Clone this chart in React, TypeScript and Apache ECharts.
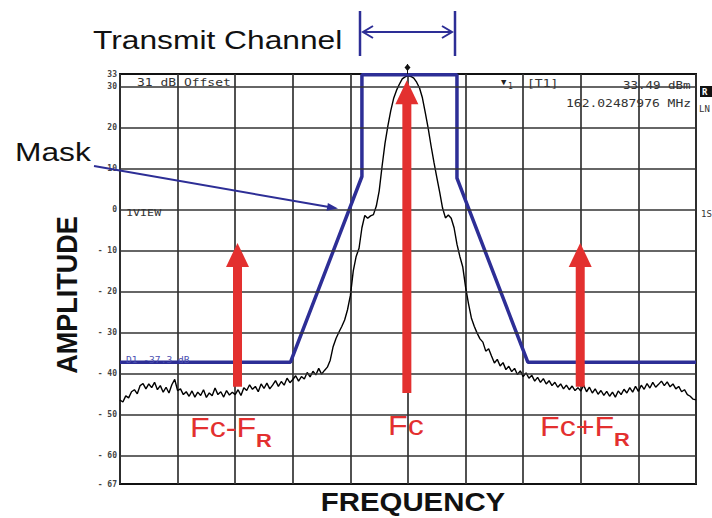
import React, { useEffect, useRef } from 'react';
import * as echarts from 'echarts';

// Y tick labels (dB) and horizontal grid levels
const yTickValues = [33, 30, 20, 10, 0, -10, -20, -30, -40, -50, -60, -67];
const yGridValues = [30, 20, 10, 0, -10, -20, -30, -40, -50, -60];

// Spectral mask (frequency in divisions, level in dB)
const maskFreq = [0, 2.96, 4.2, 4.2, 5.85, 5.85, 7.08, 10];
const maskLevel = [-37.3, -37.3, 8.0, 32.8, 32.8, 7.6, -37.3, -37.3];

// Measured spectrum trace, sampled every 0.05 division from 0
const traceStart = 0;
const traceStep = 0.05;
const traceLevel = [
  -46.5, -47, -45.5, -46, -44.5, -44, -45, -43, -42.5, -43.8,
  -42.6, -43.5, -42.2, -44, -43, -44.6, -43.4, -44.8, -42.8, -41.5,
  -44.2, -43.8, -45.2, -44.5, -45.6, -44.3, -45.8, -44.6, -45.4, -44,
  -45.9, -44.8, -45.5, -43.6, -45.2, -44.5, -45.8, -44.2, -45.3, -44.6,
  -45.2, -44, -45.4, -43.5, -44.2, -42.8, -43.9, -43.2, -44.5, -42.6,
  -43.7, -42.4, -43.8, -42.9, -41.8, -43.2, -42, -42.9, -41.2, -42.3,
  -41.5, -40.6, -41.9, -40.8, -41.4, -39.8, -40.9, -39.5, -40.4, -38.8,
  -40.2, -39.3, -38.5, -36.8, -33.5, -31.5, -30, -28.6, -27, -24.5,
  -21, -15, -11.5, -9.5, -4.5, -1.5, -2.2, -1.6, -1.3, 0.8,
  4.5, 10.5, 16, 20.3, 24, 27, 29, 30.5, 31.8, 32.3,
  32.6, 32.4, 32, 31, 29.6, 27.2, 23.6, 19.8, 15.5, 11.5,
  7.8, 4.2, 0.3, -2.1, -1.4, -2.2, -4.5, -8.5, -11.5, -14,
  -19, -23, -26.5, -28.5, -30.2, -31.6, -32.4, -34.6, -34, -35.8,
  -37.5, -36.6, -38.2, -37.4, -39.1, -38.3, -39.6, -38.8, -40.3, -39.4,
  -40.8, -39.9, -41.2, -40.5, -41.9, -41, -42.2, -41.3, -42.6, -41.8,
  -43, -42.2, -43.4, -42.6, -43.8, -42.9, -44, -43.1, -44.2, -43.5,
  -44.3, -42.9, -44.5, -43.4, -44.8, -43.8, -45.1, -44.2, -45.4, -44.4,
  -45.6, -44.6, -45.8, -44.3, -45.2, -43.9, -44.8, -43.5, -44.6, -43.2,
  -44.4, -42.9, -43.9, -42.5, -43.6, -42.2, -43.4, -42.7, -41.9, -43,
  -42.1, -43.3, -42.6, -43.8, -43.2, -44.5, -44, -45.2, -45.6, -46.3,
  -46.5,
];

// Red carrier arrows: Fc-FR, Fc, Fc+FR
const carrierNames = ['Fc-F', 'Fc', 'Fc+F'];
const carrierFreq = [2.04, 4.98, 7.99];
const carrierBase = [-43.3, -44.8, -43.3];
const carrierTip = [-8.2, 31.5, -8.2];

const RED = '#e3302f';
const BLUE = '#2d2e96';
const GRID = '#333333';

export default function App() {
  const ref = useRef<HTMLDivElement>(null);

  useEffect(() => {
    if (!ref.current) return;
    const chart = echarts.init(ref.current, null, { renderer: 'svg' });

    const traceData = traceLevel.map((v, i) => [traceStart + i * traceStep, v]);
    const maskData = maskFreq.map((f, i) => [f, maskLevel[i]]);
    const arrowData = carrierFreq.map((f, i) => [f, carrierBase[i], carrierTip[i]]);

    const mono = 'DejaVu Sans Mono';
    const sans = 'Liberation Sans, Arial, sans-serif';

    const txt = (text: string, x: number, y: number, o: any = {}) => ({
      type: 'text',
      x,
      y,
      scaleX: o.scaleX ?? 1,
      scaleY: o.scaleY ?? 1,
      rotation: o.rotation ?? 0,
      z: 100,
      silent: true,
      style: {
        text,
        fill: o.fill ?? '#111',
        fontSize: o.fontSize ?? 12,
        fontFamily: o.fontFamily ?? sans,
        fontWeight: o.fontWeight ?? 'normal',
        align: o.align ?? 'left',
        textAlign: o.align ?? 'left',
        verticalAlign: 'middle',
        textVerticalAlign: 'middle',
      },
    });

    const option: any = {
      animation: false,
      backgroundColor: '#ffffff',
      grid: {
        left: 120,
        top: 74,
        width: 576,
        height: 410,
        show: true,
        borderColor: '#111',
        borderWidth: 2,
        backgroundColor: 'transparent',
      },
      xAxis: {
        type: 'value',
        min: 0,
        max: 10,
        interval: 1,
        axisLine: { show: false },
        axisTick: { show: false },
        axisLabel: { show: false },
        splitLine: { show: true, lineStyle: { color: GRID, width: 1.7 } },
      },
      yAxis: {
        type: 'value',
        min: -67,
        max: 33,
        axisLine: { show: false },
        axisTick: { show: false },
        splitLine: { show: false },
        axisLabel: {
          customValues: yTickValues,
          formatter: (v: number) => (v < 0 ? '- ' + -v : String(v)),
          fontSize: 8,
          fontFamily: mono,
          fontWeight: 'bold',
          color: '#444',
          margin: 3,
        },
      },
      series: [
        {
          type: 'line',
          data: [[0, -67]],
          symbol: 'none',
          lineStyle: { opacity: 0 },
          silent: true,
          z: 1,
          markLine: {
            silent: true,
            symbol: 'none',
            label: { show: false },
            lineStyle: { color: GRID, width: 1.7, type: 'solid' },
            data: yGridValues.map((v) => ({ yAxis: v })),
          },
        },
        {
          type: 'line',
          data: traceData,
          symbol: 'none',
          lineStyle: { color: '#000', width: 1.4 },
          silent: true,
          z: 3,
        },
        {
          type: 'line',
          data: maskData,
          symbol: 'none',
          clip: false,
          lineStyle: { color: BLUE, width: 3.5 },
          silent: true,
          z: 4,
        },
        {
          type: 'custom',
          data: arrowData,
          clip: false,
          silent: true,
          z: 5,
          encode: { x: 0, y: [1, 2] },
          renderItem: (_p: any, api: any) => {
            const b = api.coord([api.value(0), api.value(1)]);
            const t = api.coord([api.value(0), api.value(2)]);
            const headH = 24;
            const headW = 11.5;
            const shaftW = 4.5;
            return {
              type: 'group',
              children: [
                {
                  type: 'rect',
                  shape: { x: b[0] - shaftW, y: t[1] + headH - 2, width: shaftW * 2, height: b[1] - (t[1] + headH - 2) },
                  style: { fill: RED },
                },
                {
                  type: 'polygon',
                  shape: { points: [[t[0], t[1]], [t[0] - headW, t[1] + headH], [t[0] + headW, t[1] + headH]] },
                  style: { fill: RED },
                },
              ],
            };
          },
        },
      ],
      graphic: [
        // Transmit channel bracket
        { type: 'line', shape: { x1: 360, y1: 11, x2: 360, y2: 56 }, style: { stroke: BLUE, lineWidth: 2.5 }, z: 100 },
        { type: 'line', shape: { x1: 455, y1: 11, x2: 455, y2: 56 }, style: { stroke: BLUE, lineWidth: 2.5 }, z: 100 },
        { type: 'line', shape: { x1: 363, y1: 32, x2: 452, y2: 32 }, style: { stroke: BLUE, lineWidth: 2 }, z: 100 },
        { type: 'polyline', shape: { points: [[373, 26], [363, 32], [373, 38]] }, style: { stroke: BLUE, lineWidth: 2, fill: 'none' }, z: 100 },
        { type: 'polyline', shape: { points: [[442, 26], [452, 32], [442, 38]] }, style: { stroke: BLUE, lineWidth: 2, fill: 'none' }, z: 100 },
        txt('Transmit Channel', 93, 40, { fontSize: 25, scaleX: 1.27 }),
        // Mask pointer
        { type: 'line', shape: { x1: 94, y1: 166, x2: 329, y2: 207 }, style: { stroke: BLUE, lineWidth: 2 }, z: 100 },
        { type: 'polygon', shape: { points: [[338, 208.5], [326.5, 210.7], [327.9, 202.9]] }, style: { fill: BLUE }, z: 100 },
        txt('Mask', 15, 152, { fontSize: 26, scaleX: 1.22 }),
        // Axis titles
        txt('AMPLITUDE', 66, 295, { fontSize: 27, fontWeight: 'bold', align: 'center', rotation: Math.PI / 2, scaleY: 1.12 }),
        txt('FREQUENCY', 413, 502, { fontSize: 26, fontWeight: 'bold', align: 'center', scaleX: 1.13 }),
        // Red labels
        txt(carrierNames[0], 190, 427, { fontSize: 28, fill: RED, scaleX: 1.15 }),
        txt('R', 256, 440, { fontSize: 19, fontWeight: 'bold', fill: RED, scaleX: 1.15 }),
        txt(carrierNames[1], 388, 425, { fontSize: 28, fill: RED, scaleX: 1.15 }),
        txt(carrierNames[2], 540, 426, { fontSize: 28, fill: RED, scaleX: 1.15 }),
        txt('R', 614, 439, { fontSize: 19, fontWeight: 'bold', fill: RED, scaleX: 1.15 }),
        // Analyzer screen annotations
        txt('31 dB Offset', 137, 83, { fontSize: 10, fontFamily: mono, fill: '#333', scaleX: 1.3 }),
        txt('▼', 501, 82, { fontSize: 9, fontFamily: mono, fill: '#222' }),
        txt('1', 508, 86, { fontSize: 8, fontFamily: mono, fill: '#333' }),
        txt('[T1]', 527, 84, { fontSize: 10, fontFamily: mono, fill: '#333', scaleX: 1.3 }),
        txt('33.49 dBm', 623, 86, { fontSize: 10, fontFamily: mono, fill: '#333', scaleX: 1.25 }),
        txt('162.02487976 MHz', 566, 104, { fontSize: 10, fontFamily: mono, fill: '#333', scaleX: 1.3 }),
        { type: 'rect', shape: { x: 700, y: 86, width: 12, height: 11 }, style: { fill: '#111' }, z: 100 },
        txt('R', 702, 91.5, { fontSize: 9, fontFamily: mono, fill: '#fff', fontWeight: 'bold' }),
        txt('LN', 699, 109, { fontSize: 9, fontFamily: mono, fill: '#333' }),
        txt('1VIEW', 126, 213, { fontSize: 9, fontFamily: mono, fill: '#333', scaleX: 1.3 }),
        txt('1S', 701, 214, { fontSize: 9, fontFamily: mono, fill: '#333' }),
        txt('D1 -37.3 dB', 126, 360, { fontSize: 8, fontFamily: mono, fill: '#4a4fb0', scaleX: 1.2 }),
        // Peak marker
        { type: 'line', shape: { x1: 407.5, y1: 64, x2: 407.5, y2: 74 }, style: { stroke: '#111', lineWidth: 1 }, z: 100 },
        { type: 'polygon', shape: { points: [[407.5, 64], [410.5, 67.5], [407.5, 71], [404.5, 67.5]] }, style: { fill: '#111' }, z: 100 },
      ],
    };

    chart.setOption(option);
    return () => chart.dispose();
  }, []);

  return (
    <div
      ref={ref}
      style={{ position: 'fixed', left: 0, top: 0, width: 712, height: 518, background: '#fff' }}
    />
  );
}
